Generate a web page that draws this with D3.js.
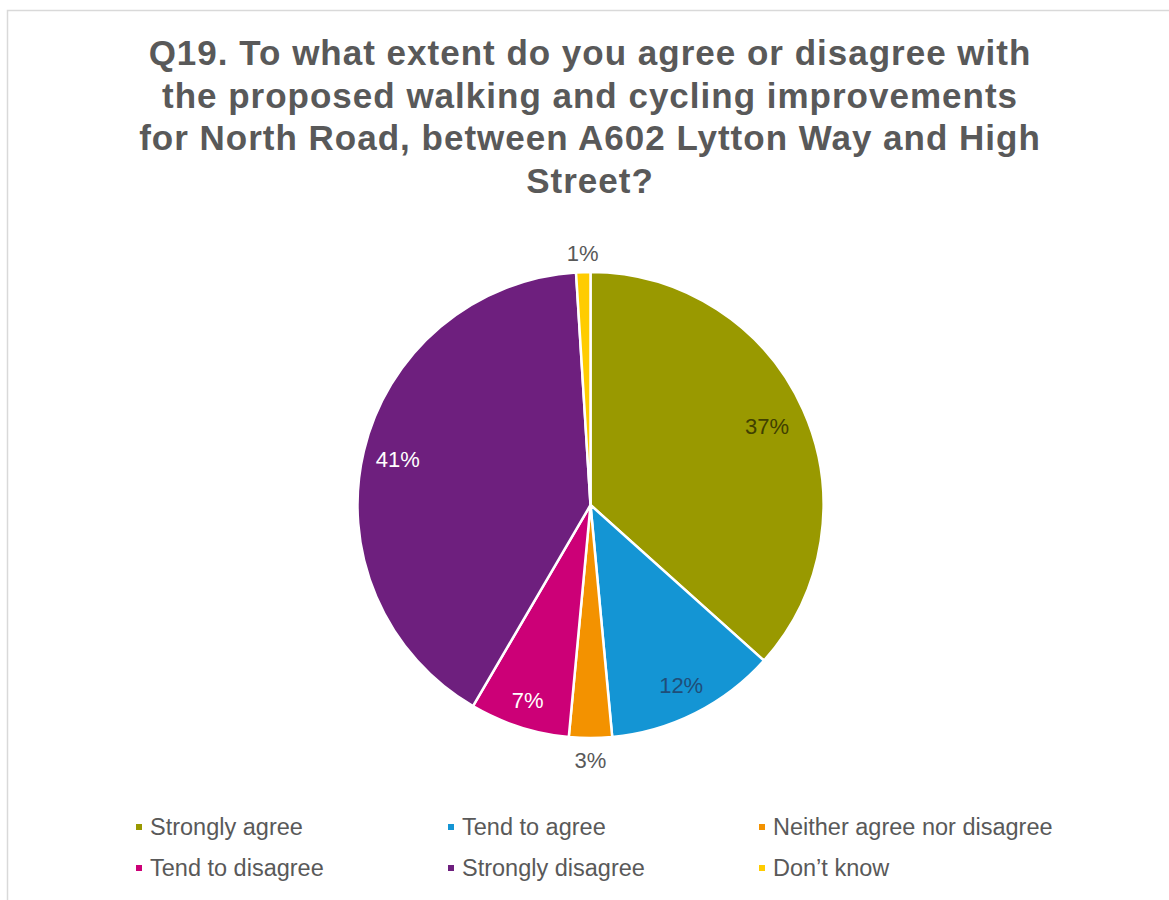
<!DOCTYPE html>
<html>
<head>
<meta charset="utf-8">
<script src="https://cdn.jsdelivr.net/npm/d3@7"></script>
<style>
  html, body { margin: 0; padding: 0; background: #ffffff; }
  svg { display: block; }
</style>
</head>
<body>
<svg id="chart" width="1169" height="900"></svg>
<script>
// Survey responses for Q19 (percent of respondents)
const categories = ["Strongly agree", "Tend to agree", "Neither agree nor disagree",
                    "Tend to disagree", "Strongly disagree", "Don't know"];
const percentages = [37, 12, 3, 7, 41, 1];
const sliceColors = ["#999900", "#1495d4", "#f39200", "#cc0077", "#6e1f7e", "#ffcc00"];
const legendLabels = ["Strongly agree", "Tend to agree", "Neither agree nor disagree",
                      "Tend to disagree", "Strongly disagree", "Don\u2019t know"];
const titleLines = [
  "Q19. To what extent do you agree or disagree with",
  "the proposed walking and cycling improvements",
  "for North Road, between A602 Lytton Way and High",
  "Street?"
];

const svg = d3.select("#chart");
const font = "'Liberation Sans', Arial, sans-serif";

// chart area frame
svg.append("rect")
  .attr("x", 7.5).attr("y", 10.5)
  .attr("width", 1200).attr("height", 950)
  .attr("fill", "#ffffff")
  .attr("stroke", "#d9d9d9").attr("stroke-width", 1.5);

// title
svg.append("text")
  .attr("x", 590).attr("y", 65)
  .attr("text-anchor", "middle")
  .attr("font-family", font).attr("font-weight", "bold")
  .attr("font-size", 35).attr("letter-spacing", 1.0)
  .attr("fill", "#595959")
  .selectAll("tspan").data(titleLines).join("tspan")
  .attr("x", 590)
  .attr("dy", (d, i) => i === 0 ? 0 : 42.5)
  .text(d => d);

// pie
const cx = 590.5, cy = 505, radius = 233;
const pie = d3.pie().sort(null).value(d => d.value);
const arcs = pie(categories.map((c, i) => ({ name: c, value: percentages[i], color: sliceColors[i] })));
const arc = d3.arc().innerRadius(0).outerRadius(radius);

const g = svg.append("g").attr("transform", `translate(${cx},${cy})`);
g.selectAll("path").data(arcs).join("path")
  .attr("d", arc)
  .attr("fill", d => d.data.color)
  .attr("stroke", "#ffffff").attr("stroke-width", 2.5)
  .attr("stroke-linejoin", "round");

// data labels: inside labels at a fraction of the radius, small slices outside
const labelStyle = [
  { r: 0.83, color: "#404000" },
  { r: 0.865, color: "#1f4e79" },
  { r: 1.095, color: "#595959" },
  { r: 0.88, color: "#ffffff" },
  { r: 0.85, color: "#ffffff" },
  { r: 1.08, color: "#595959" }
];
g.selectAll("text.lbl").data(arcs).join("text")
  .attr("class", "lbl")
  .attr("transform", (d, i) => {
    const a = (d.startAngle + d.endAngle) / 2;
    const r = radius * labelStyle[i].r;
    return `translate(${r * Math.sin(a)},${-r * Math.cos(a)})`;
  })
  .attr("text-anchor", "middle")
  .attr("dominant-baseline", "central")
  .attr("font-family", font).attr("font-size", 22)
  .attr("fill", (d, i) => labelStyle[i].color)
  .text(d => d.data.value + "%");

// legend: 3 columns x 2 rows
const colX = [136, 448, 759];
const rowY = [827, 868];
const leg = svg.append("g").selectAll("g").data(legendLabels).join("g")
  .attr("transform", (d, i) => `translate(${colX[i % 3]},${rowY[Math.floor(i / 3)]})`);
leg.append("rect")
  .attr("x", 0).attr("y", -3).attr("width", 6).attr("height", 6)
  .attr("fill", (d, i) => sliceColors[i]);
leg.append("text")
  .attr("x", 14).attr("y", 0)
  .attr("dominant-baseline", "central")
  .attr("font-family", font).attr("font-size", 23.5)
  .attr("fill", "#595959")
  .text(d => d);
</script>
</body>
</html>
